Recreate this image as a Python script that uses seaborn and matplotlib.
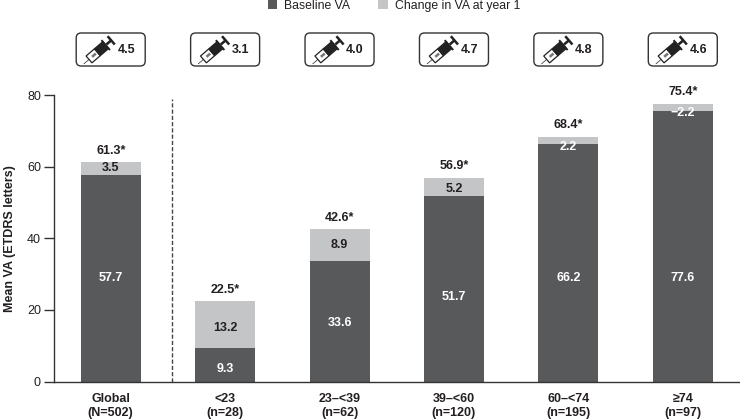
import numpy as np
import seaborn as sns
import matplotlib
matplotlib.use("Agg")
import matplotlib.pyplot as plt
from matplotlib.patches import FancyBboxPatch, Polygon

categorias = ["Global\n(N=502)", "<23\n(n=28)", "23–<39\n(n=62)", "39–<60\n(n=120)", "60–<74\n(n=195)", "≥74\n(n=97)"]
baseline = [57.7, 9.3, 33.6, 51.7, 66.2, 75.4]
cambio = [3.5, 13.2, 8.9, 5.2, 2.2, 2.2]
etiq_baseline = ["57.7", "9.3", "33.6", "51.7", "66.2", "77.6"]
etiq_cambio = ["3.5", "13.2", "8.9", "5.2", "2.2", "−2.2"]
etiq_final = ["61.3*", "22.5*", "42.6*", "56.9*", "68.4*", "75.4*"]
inyecciones = ["4.5", "3.1", "4.0", "4.7", "4.8", "4.6"]

# donde van los numeros dentro de las barras (no siempre centrados en el original)
y_baseline = [28.9, 3.4, 16.3, 23.5, 29.0, 29.0]
y_cambio = [59.5, 15.0, 38.0, 53.8, 65.6, 74.9]

OSCURO = "#58595b"
CLARO = "#c4c5c7"
TEXTO = "#231f20"

sns.set_theme(style="white")
plt.rcParams["font.family"] = ["Liberation Sans", "DejaVu Sans"]
plt.rcParams["font.size"] = 9

fig = plt.figure(figsize=(7.4, 4.19), dpi=100)
ax = fig.add_axes([53.5 / 740, 1 - 381.5 / 419, (740 - 53.5) / 740, 286.5 / 419])

sns.barplot(x=categorias, y=baseline, color=OSCURO, saturation=1, width=0.525, ax=ax, label="Baseline VA",
            linewidth=0)
sns.barplot(x=categorias, y=cambio, bottom=np.array(baseline), color=CLARO, saturation=1, width=0.525, ax=ax,
            label="Change in VA at year 1", linewidth=0)

ax.set_xlim(-0.5, 5.5)
ax.set_ylim(0, 80)
ax.set_yticks([0, 20, 40, 60, 80])
ax.set_ylabel("Mean VA (ETDRS letters)", fontsize=9, fontweight="bold", color=TEXTO, labelpad=8)
ax.set_xlabel("")
ax.tick_params(axis="y", length=7, width=1, color="#333333", labelsize=9, labelcolor=TEXTO, left=True, pad=2)
ax.tick_params(axis="x", length=0, labelsize=9, labelcolor=TEXTO, pad=8)
for t in ax.get_xticklabels():
    t.set_fontweight("bold")
    t.set_linespacing(1.3)
sns.despine(ax=ax)
for lado in ["left", "bottom"]:
    ax.spines[lado].set_color("#333333")
    ax.spines[lado].set_linewidth(1)

ax.plot([0.54, 0.54], [0, 79], color="#444444", lw=1, ls=(0, (3, 1.5)))

for i in range(len(categorias)):
    ax.text(i, y_baseline[i], etiq_baseline[i], color="white", fontweight="bold", fontsize=9, ha="center", va="center")
    color_c = "white" if i >= 4 else TEXTO
    ax.text(i, y_cambio[i], etiq_cambio[i], color=color_c, fontweight="bold", fontsize=9, ha="center", va="center")
    ax.text(i, baseline[i] + cambio[i] + 1.5, etiq_final[i], color=TEXTO, fontweight="bold", fontsize=9,
            ha="center", va="bottom")

handles, labels = ax.get_legend_handles_labels()
ax.get_legend().remove()
fig.legend(handles, labels, loc="center", bbox_to_anchor=(394 / 740, 1 - 6 / 419), ncol=2,
           frameon=False, fontsize=8.8, handlelength=0.75, handleheight=0.75, handletextpad=0.6, columnspacing=2.3,
           labelcolor=TEXTO, borderpad=0)

# capa en pixeles para las cajitas con la jeringa
capa = fig.add_axes([0, 0, 1, 1], facecolor="none")
capa.set_xlim(0, 740)
capa.set_ylim(419, 0)
capa.axis("off")


def jeringa(x0, y0):
    # x0, y0 es la punta de la aguja, el eje sube a la derecha
    ang = np.radians(40.7)
    u = np.array([np.cos(ang), -np.sin(ang)])
    v = np.array([np.sin(ang), np.cos(ang)])

    def rect(t0, t1, w, **kw):
        p0 = np.array([x0, y0])
        pts = [p0 + u * t0 + v * w, p0 + u * t1 + v * w, p0 + u * t1 - v * w, p0 + u * t0 - v * w]
        capa.add_patch(Polygon(pts, closed=True, **kw))

    rect(0, 8, 0.35, fc="#222222", ec="none")
    rect(7, 18, 4.5, fc="white", ec="#222222", lw=0.9)
    rect(18, 29, 4.5, fc="#222222", ec="#222222", lw=0.9)
    rect(11, 16, 1.3, fc="#777777", ec="none")
    rect(28, 30, 6.5, fc="#222222", ec="none")
    rect(30, 36, 1.3, fc="#222222", ec="none")
    rect(35, 37.5, 5.5, fc="#222222", ec="none")


for i, dosis in enumerate(inyecciones):
    cx = ax.transData.transform((i, 0))[0]
    x_caja = cx - 34.5
    capa.add_patch(FancyBboxPatch((x_caja, 33), 69, 33, boxstyle="round,pad=0,rounding_size=5",
                                  fc="white", ec="#333333", lw=1))
    jeringa(x_caja + 7.5, 64)
    capa.text(x_caja + 50, 50, dosis, fontsize=9, fontweight="bold", color=TEXTO, ha="center", va="center")

plt.savefig("out.png", dpi=100)
